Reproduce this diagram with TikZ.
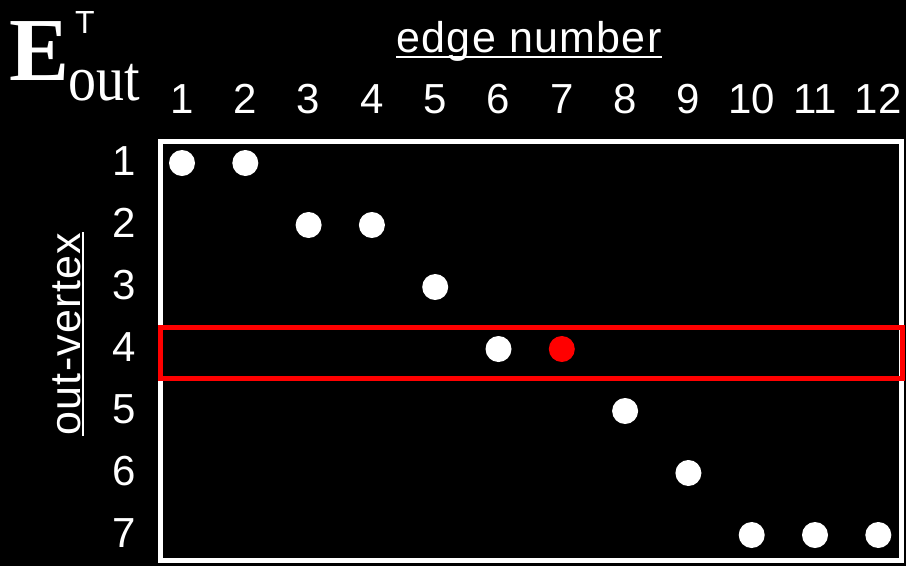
\documentclass[tikz,border=0pt]{standalone}
\usepackage{fontspec}
\setmainfont{Liberation Sans}
\newfontfamily\timesfont{Liberation Serif}
\begin{document}
\begin{tikzpicture}[x=1pt,y=-1pt]
        \tikzstyle{edgedot}=[circle,fill=white,minimum size=26pt,inner sep=0pt]
        \tikzstyle{hotdot}=[edgedot,fill=red]
        \tikzstyle{numlabel}=[text=white,inner sep=0pt,font=\fontsize{42}{42}\selectfont]
        \tikzstyle{axislabel}=[text=white,inner sep=0pt,font=\fontsize{43}{43}\selectfont\addfontfeatures{LetterSpace=3}]
        \tikzstyle{frame}=[draw=white,line width=5pt]
        \tikzstyle{pick}=[draw=red,line width=5pt]
       \useasboundingbox (0,0) rectangle (906,566);
       \fill[black] (0,0) rectangle (906,566);
       % matrix name
       \node [text=white,inner sep=0pt,anchor=base west,font=\timesfont\bfseries\fontsize{90}{90}\selectfont] (E) at (9,80) {E};
       \node [text=white,inner sep=0pt,anchor=base west,yscale=1.15,font=\timesfont\fontsize{56}{56}\selectfont] (Esub) at (68,100) {out};
       \node [text=white,inner sep=0pt,anchor=base west,font=\fontsize{32}{32}\selectfont] (Esup) at (75,33) {T};
       % axis titles
       \node [axislabel,anchor=base] (colname) at (529,52) {edge number};
       \draw [white,line width=2pt] ([yshift=-5pt]colname.base west) -- ([yshift=-5pt]colname.base east);
       \node [axislabel,anchor=base,rotate=90] (rowname) at (80,334) {out-vertex};
       \draw [white,line width=2pt] ([xshift=3pt]rowname.base west) -- ([xshift=3pt]rowname.base east);
       % column numbers
       \node [numlabel,anchor=base] (c1) at (182,113) {1};
       \node [numlabel,anchor=base] (c2) at (245.3,113) {2};
       \node [numlabel,anchor=base] (c3) at (308.6,113) {3};
       \node [numlabel,anchor=base] (c4) at (371.9,113) {4};
       \node [numlabel,anchor=base] (c5) at (435.2,113) {5};
       \node [numlabel,anchor=base] (c6) at (498.5,113) {6};
       \node [numlabel,anchor=base] (c7) at (561.8,113) {7};
       \node [numlabel,anchor=base] (c8) at (625.1,113) {8};
       \node [numlabel,anchor=base] (c9) at (688.4,113) {9};
       \node [numlabel,anchor=base] (c10) at (751.7,113) {10};
       \node [numlabel,anchor=base] (c11) at (815,113) {11};
       \node [numlabel,anchor=base] (c12) at (878.3,113) {12};
       % row numbers
       \node [numlabel,anchor=base east] (r1) at (136,175) {1};
       \node [numlabel,anchor=base east] (r2) at (136,237) {2};
       \node [numlabel,anchor=base east] (r3) at (136,299) {3};
       \node [numlabel,anchor=base east] (r4) at (136,361) {4};
       \node [numlabel,anchor=base east] (r5) at (136,423) {5};
       \node [numlabel,anchor=base east] (r6) at (136,485) {6};
       \node [numlabel,anchor=base east] (r7) at (136,547) {7};
       % matrix
       \draw [frame] (160,141) rectangle (901,560);
       \draw [pick] (160,327.5) rectangle (902,378);
       \node [edgedot] (e1) at (182,163) {};
       \node [edgedot] (e2) at (245.3,163) {};
       \node [edgedot] (e3) at (308.6,225) {};
       \node [edgedot] (e4) at (371.9,225) {};
       \node [edgedot] (e5) at (435.2,287) {};
       \node [edgedot] (e6) at (498.5,349) {};
       \node [hotdot] (e7) at (561.8,349) {};
       \node [edgedot] (e8) at (625.1,411) {};
       \node [edgedot] (e9) at (688.4,473) {};
       \node [edgedot] (e10) at (751.7,535) {};
       \node [edgedot] (e11) at (815,535) {};
       \node [edgedot] (e12) at (878.3,535) {};
      \end{tikzpicture}
\end{document}
